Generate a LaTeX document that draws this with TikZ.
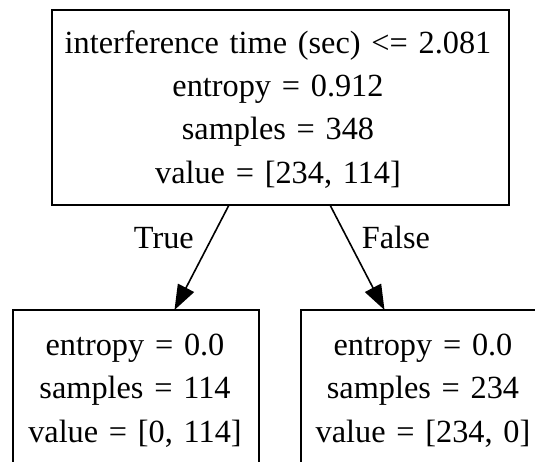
\documentclass[tikz,border=0pt]{standalone}
\usepackage{fontspec}
\setmainfont{Liberation Serif}
\usetikzlibrary{arrows.meta}
\begin{document}
\begin{tikzpicture}[x=1pt,y=-1pt,
  box/.style={draw=black, line width=2pt, rectangle, inner sep=0pt, outer sep=0pt, anchor=north west},
  txt/.style={font=\fontsize{32.3}{43.3}\selectfont, text width=#1, align=center, anchor=base, inner sep=0pt},
  edge/.style={line width=1.6pt, -{Triangle[length=25pt,width=18pt]}},
  lbl/.style={font=\fontsize{32.3}{43.3}\selectfont, anchor=base, inner sep=0pt}]
\useasboundingbox (0,0) rectangle (535,462);
\clip (0,0) rectangle (535,462);
\fill[white] (0,0) rectangle (535,462);
% boxes
\node[box, minimum width=457.5pt, minimum height=195pt] (root) at (51.5,10) {};
\node[box, minimum width=245.7pt, minimum height=152.5pt] (leafL) at (13.3,310) {};
\node[box, minimum width=270pt, minimum height=152.5pt] (leafR) at (301,310) {};
% texts
\node[txt=440pt] (rootText) at (278,53.3) {interference time (sec) <= 2.081\\entropy = 0.912\\samples = 348\\value = [234, 114]};
\node[txt=240pt] (leafLText) at (135,355.5) {entropy = 0.0\\samples = 114\\value = [0, 114]};
\node[txt=240pt] (leafRText) at (423,355.5) {entropy = 0.0\\samples = 234\\value = [234, 0]};
% edges
\draw[edge] ([xshift=177.5pt]root.south west) -- ([xshift=161.2pt]leafL.north west);
\draw[edge] ([xshift=278.5pt]root.south west) -- ([xshift=83.5pt]leafR.north west);
% edge labels
\node[lbl] (lblTrue) at (163.9,248.3) {True};
\node[lbl] (lblFalse) at (395.9,248.3) {False};
\end{tikzpicture}
\end{document}
